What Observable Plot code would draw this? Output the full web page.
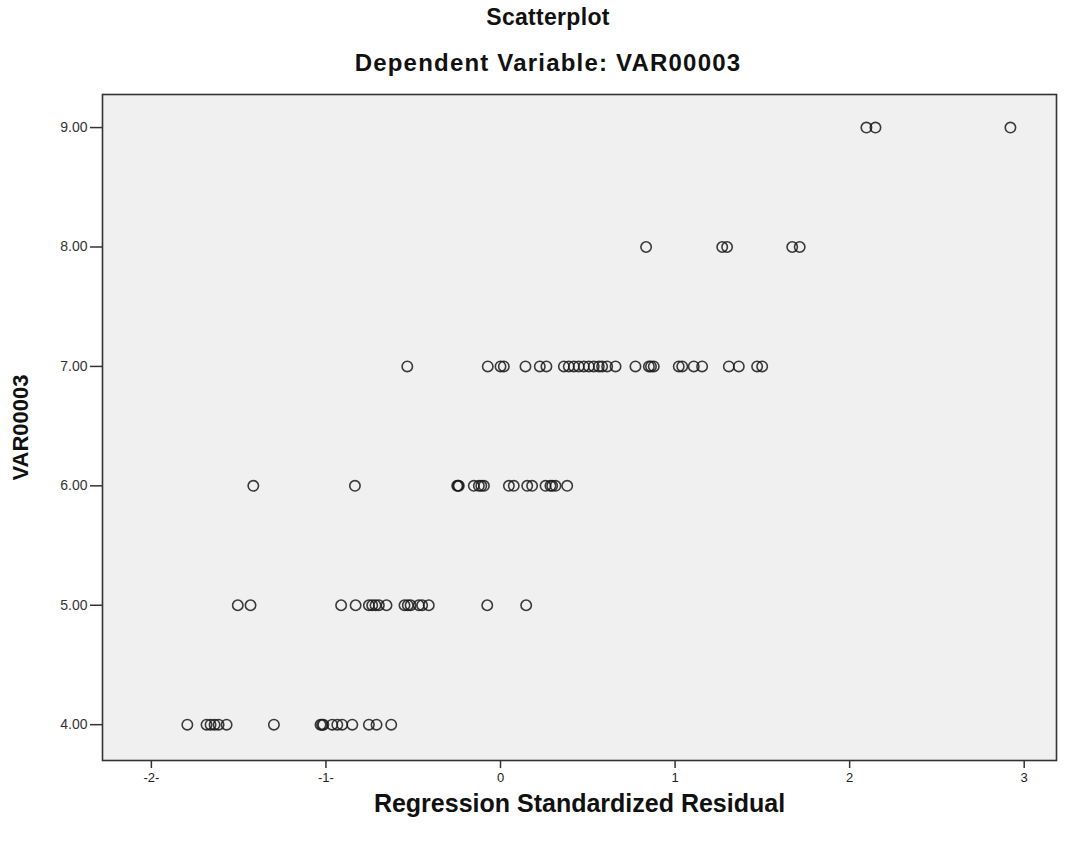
<!DOCTYPE html>
<html>
<head>
<meta charset="utf-8">
<script src="https://cdn.jsdelivr.net/npm/d3@7"></script>
<script src="https://cdn.jsdelivr.net/npm/@observablehq/plot@0.6"></script>
<style>
  html, body { margin: 0; padding: 0; background: #fff; }
  #wrap { position: relative; width: 1068px; height: 843px; font-family: "Liberation Sans", Arial, sans-serif; }
  .t { position: absolute; left: 14px; width: 1068px; text-align: center; font-weight: bold; color: #111; line-height: 1; }
</style>
</head>
<body>
<div id="wrap">
  <div class="t" style="top:6px;font-size:23px;letter-spacing:0.3px;">Scatterplot</div>
  <div class="t" style="top:51px;font-size:24px;letter-spacing:1.2px;">Dependent Variable: VAR00003</div>
  <div id="chart" style="position:absolute;left:0;top:0;"></div>
</div>
<script>
// Data: residuals grouped by VAR00003 value
const yLevels = [4, 5, 6, 7, 8, 9];
const resid4 = [-1.794, -1.684, -1.661, -1.638, -1.615, -1.569, -1.298, -1.031, -1.022, -1.015, -0.964, -0.935, -0.907, -0.849, -0.754, -0.710, -0.626];
const resid5 = [-1.505, -1.432, -0.913, -0.830, -0.754, -0.735, -0.716, -0.697, -0.653, -0.550, -0.531, -0.515, -0.468, -0.449, -0.411, -0.076, 0.147];
const resid6 = [-1.416, -0.834, -0.248, -0.243, -0.239, -0.153, -0.124, -0.110, -0.095, 0.048, 0.076, 0.153, 0.181, 0.258, 0.286, 0.296, 0.315, 0.382];
const resid7 = [-0.534, -0.073, 0.000, 0.019, 0.143, 0.225, 0.263, 0.363, 0.391, 0.420, 0.448, 0.477, 0.506, 0.534, 0.563, 0.582, 0.611, 0.659, 0.773, 0.850, 0.862, 0.878, 1.021, 1.041, 1.107, 1.155, 1.308, 1.365, 1.470, 1.499];
const resid8 = [0.834, 1.270, 1.298, 1.671, 1.714];
const resid9 = [2.096, 2.148, 2.921];
const xTicks = [-2, -1, 0, 1, 2, 3];
const xTickLabels = ["-2-", "-1-", "0", "1", "2", "3"];
const yTicks = [4, 5, 6, 7, 8, 9];

const groups = [resid4, resid5, resid6, resid7, resid8, resid9];
const data = groups.flatMap((arr, i) => arr.map(r => ({x: r, y: yLevels[i]})));

const chart = Plot.plot({
  width: 1068,
  height: 843,
  marginTop: 94,
  marginBottom: 83,
  marginLeft: 102,
  marginRight: 12,
  style: {fontFamily: "'Liberation Sans', Arial, sans-serif", background: "transparent"},
  x: {domain: [-2.28, 3.185]},
  y: {domain: [3.70, 9.277]},
  marks: [
    Plot.frame({fill: "#f0f0f0", stroke: "none"}),
    Plot.axisX({
      ticks: xTicks,
      tickFormat: d => xTickLabels[xTicks.indexOf(d)],
      tickSize: 8,
      tickPadding: 4,
      fontSize: 13,
      stroke: "#333",
      strokeWidth: 1.5,
      color: "#222",
      label: null
    }),
    Plot.axisY({
      ticks: yTicks,
      tickFormat: d => d.toFixed(2),
      tickSize: 12,
      tickPadding: 3,
      fontSize: 14,
      stroke: "#333",
      strokeWidth: 1.5,
      color: "#333",
      label: null,
      style: {letterSpacing: "1.2px"}
    }),
    Plot.dot(data, {x: "x", y: "y", r: 5.2, stroke: "#1a1a1a", strokeWidth: 1.6, fill: "none", strokeOpacity: 0.85}),
    Plot.frame({stroke: "#333", strokeWidth: 1.6, fill: "none"}),
    Plot.text(["Regression Standardized Residual"], {frameAnchor: "bottom", lineAnchor: "middle", dy: 43, fontSize: 25, fontWeight: "bold", fill: "#111"}),
    Plot.text(["VAR00003"], {frameAnchor: "left", textAnchor: "middle", lineAnchor: "middle", dx: -82, rotate: -90, fontSize: 22, fontWeight: "bold", fill: "#111"})
  ]
});
document.getElementById("chart").appendChild(chart);
</script>
</body>
</html>
